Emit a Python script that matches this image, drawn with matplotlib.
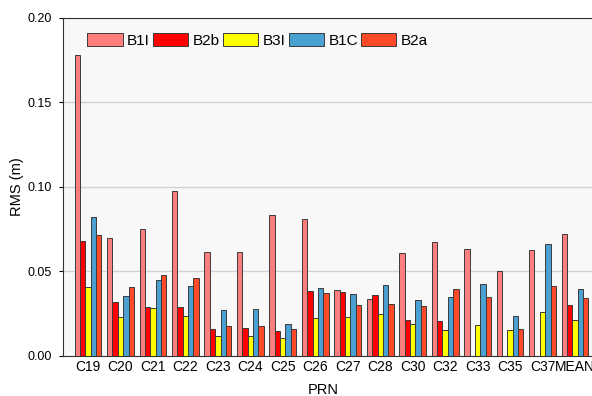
import numpy as np
import matplotlib
matplotlib.use('Agg')
import matplotlib.pyplot as plt

plt.rcParams['font.family'] = ['Liberation Sans', 'DejaVu Sans']

# satellites (PRN) and RMS per frequency, metres
prn = ['C19', 'C20', 'C21', 'C22', 'C23', 'C24', 'C25', 'C26',
       'C27', 'C28', 'C30', 'C32', 'C33', 'C35', 'C37', 'MEAN']
b1i = [0.178, 0.0698, 0.0749, 0.0977, 0.0615, 0.0615, 0.0830, 0.0809,
       0.0390, 0.0333, 0.0606, 0.0673, 0.0631, 0.0500, 0.0625, 0.0720]
b2b = [0.0680, 0.0318, 0.0290, 0.0285, 0.0158, 0.0161, 0.0147, 0.0384,
       0.0378, 0.0357, 0.0209, 0.0205, np.nan, np.nan, np.nan, 0.0301]
b3i = [0.0405, 0.0231, 0.0283, 0.0237, 0.0113, 0.0116, 0.0104, 0.0224,
       0.0226, 0.0246, 0.0187, 0.0149, 0.0182, 0.0151, 0.0258, 0.0209]
b1c = [0.0818, 0.0352, 0.0449, 0.0409, 0.0271, 0.0274, 0.0185, 0.0400,
       0.0364, 0.0418, 0.0329, 0.0347, 0.0424, 0.0236, 0.0659, 0.0396]
b2a = [0.0716, 0.0405, 0.0478, 0.0459, 0.0174, 0.0177, 0.0157, 0.0372,
       0.0299, 0.0307, 0.0293, 0.0392, 0.0349, 0.0159, 0.0414, 0.0343]

series = [('B1I', b1i, '#ff7f7f'),
          ('B2b', b2b, '#ff0000'),
          ('B3I', b3i, '#ffff00'),
          ('B1C', b1c, '#4aa0d0'),
          ('B2a', b2a, '#ff4a2a')]

fig = plt.figure(figsize=(5.92, 3.96), dpi=100)
ax = fig.add_axes([63/592, 40.5/396, 537/592, 337.5/396])
ax.set_facecolor('#f8f8f8')

x = np.arange(len(prn))
w = 0.165
for i, (name, vals, col) in enumerate(series):
    ax.bar(x + (i - 2) * w, vals, w, color=col, edgecolor='#3a3a3a',
           linewidth=0.7, label=name, zorder=3)

ax.set_xlim(-0.77, len(prn) - 0.23)
ax.set_ylim(0, 0.20)
ax.set_yticks([0, 0.05, 0.10, 0.15, 0.20])
ax.set_yticklabels(['0.00', '0.05', '0.10', '0.15', '0.20'])
ax.set_xticks(x)
ax.set_xticklabels(prn)
ax.tick_params(axis='x', length=0, labelsize=10, pad=3.5)
ax.tick_params(axis='y', length=3, labelsize=9, pad=5, direction='out')
ax.grid(axis='y', color='#d4d0d8', linewidth=1, zorder=0)
for s in ax.spines.values():
    s.set_color('#333333')
    s.set_linewidth(0.8)

ax.set_ylabel('RMS (m)', fontsize=10.5)
ax.yaxis.set_label_coords(-0.073, 0.5)
ax.set_xlabel('PRN', fontsize=10.5)
ax.xaxis.set_label_coords(0.484, -0.082)

ax.legend(loc='upper left', ncol=5, frameon=False, fontsize=11,
          handlelength=2.3, handleheight=0.85, handletextpad=0.3,
          columnspacing=0.2, bbox_to_anchor=(0.02, 0.995))

fig.savefig('out.png', dpi=100)
